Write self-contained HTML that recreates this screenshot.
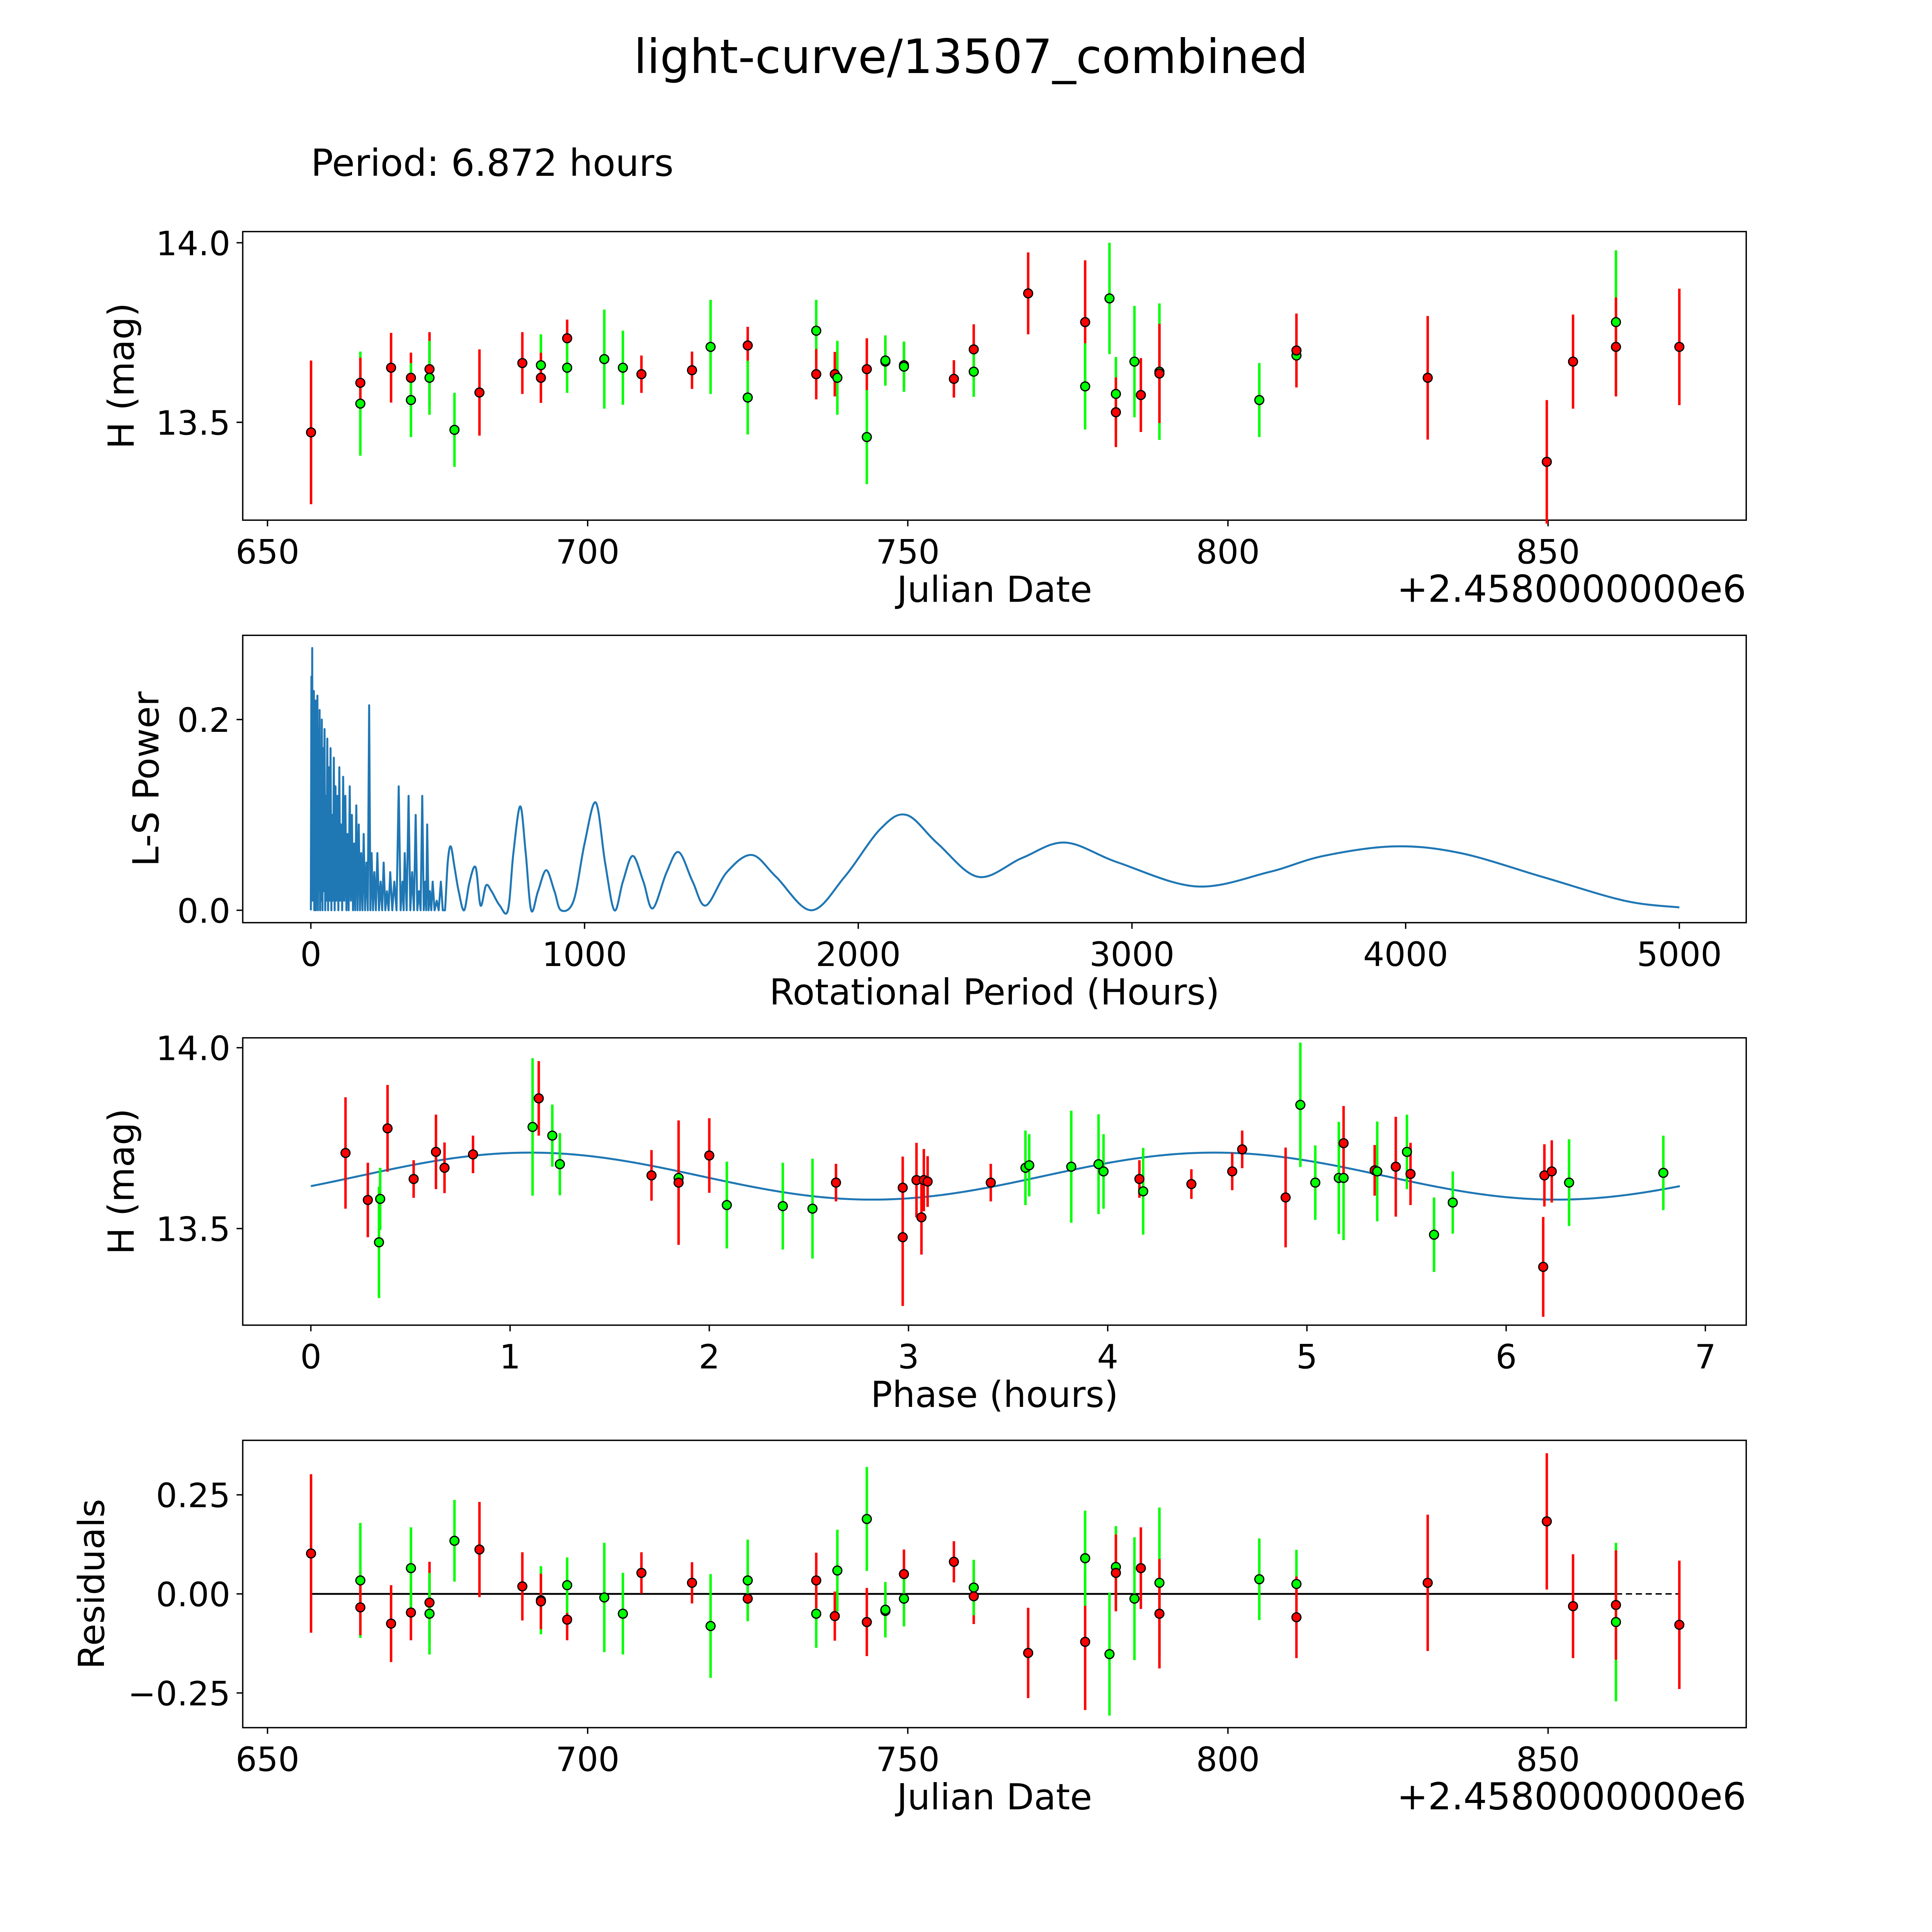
<!DOCTYPE html>
<html><head><meta charset="utf-8"><style>
html,body{margin:0;padding:0;background:#fff;width:100%;height:100%;overflow:hidden}
svg{display:block;width:100vw;height:100vh}
text{font-family:"DejaVu Sans","Liberation Sans",sans-serif;fill:#000}
</style></head><body>
<svg id="fig" xmlns="http://www.w3.org/2000/svg" viewBox="0 0 1560 1560" preserveAspectRatio="none">
<rect x="0" y="0" width="1560" height="1560" fill="#fff"/>
<text x="784" y="59" font-size="38" text-anchor="middle">light-curve/13507_combined</text>
<text x="251" y="142" font-size="30">Period: 6.872 hours</text>
<g id="plots"></g>
</svg>
<script>
// ---- data: light curve (panel 1 & 4) ----
const jdTimes = [656.8,664.5,664.5,669.3,672.4,672.4,675.3,675.3,679.2,683.1,689.8,692.7,692.7,696.8,696.8,702.6,705.5,708.4,716.3,719.2,725.0,725.0,735.7,735.7,738.6,739.0,743.6,743.6,746.5,746.5,749.4,749.4,757.2,760.3,760.3,768.8,777.7,777.7,781.5,782.5,782.5,785.4,786.4,789.3,789.3,804.9,810.7,810.7,831.2,849.8,853.9,860.6,860.6,870.5];
const magValues = [13.472,13.552,13.61,13.652,13.624,13.562,13.648,13.624,13.479,13.583,13.665,13.659,13.624,13.734,13.652,13.676,13.652,13.634,13.645,13.71,13.714,13.569,13.755,13.634,13.634,13.624,13.648,13.459,13.669,13.672,13.659,13.655,13.621,13.703,13.641,13.859,13.779,13.6,13.845,13.579,13.528,13.669,13.576,13.641,13.636,13.562,13.686,13.7,13.624,13.39,13.669,13.779,13.71,13.71];
const magErrors = [0.2,0.145,0.07,0.097,0.07,0.103,0.103,0.103,0.103,0.12,0.086,0.086,0.07,0.052,0.07,0.138,0.103,0.052,0.052,0.131,0.052,0.103,0.086,0.07,0.062,0.103,0.086,0.131,0.062,0.07,0.062,0.07,0.052,0.07,0.07,0.114,0.172,0.12,0.155,0.103,0.097,0.155,0.103,0.19,0.138,0.103,0.086,0.103,0.172,0.172,0.131,0.2,0.138,0.162];
const pointColors = ['r','g','r','r','r','g','r','g','g','r','r','g','r','r','g','g','g','r','r','g','r','g','g','r','r','g','r','g','r','g','r','g','r','r','g','r','r','g','g','g','r','g','r','g','r','g','g','r','r','r','r','g','r','r'];
const residValues = [0.102,0.034,-0.034,-0.075,-0.047,0.065,-0.022,-0.05,0.134,0.112,0.019,-0.016,-0.019,-0.065,0.022,-0.009,-0.05,0.053,0.028,-0.081,-0.012,0.034,-0.05,0.034,-0.056,0.059,-0.071,0.189,-0.043,-0.04,0.05,-0.012,0.081,-0.006,0.016,-0.149,-0.121,0.09,-0.152,0.068,0.053,-0.012,0.065,0.028,-0.05,0.037,0.025,-0.059,0.028,0.183,-0.031,-0.071,-0.028,-0.078];
// ---- data: phased (panel 3) ----
const phaseHours = [0.174,0.286,0.348,0.342,0.385,0.516,0.628,0.671,0.814,1.113,1.144,1.212,1.25,1.71,1.846,1.846,2.0,2.088,2.369,2.518,2.636,2.971,2.971,3.04,3.065,3.077,3.096,3.413,3.587,3.606,3.817,3.954,3.979,4.159,4.178,4.42,4.625,4.675,4.893,4.967,5.042,5.16,5.184,5.184,5.34,5.353,5.446,5.502,5.52,5.638,5.732,6.186,6.192,6.229,6.316,6.789];
const phaseMags = [13.709,13.579,13.582,13.462,13.777,13.637,13.712,13.668,13.705,13.781,13.86,13.757,13.678,13.647,13.64,13.627,13.702,13.565,13.562,13.555,13.627,13.476,13.613,13.634,13.531,13.634,13.63,13.627,13.668,13.675,13.671,13.678,13.658,13.637,13.603,13.623,13.658,13.719,13.586,13.842,13.627,13.64,13.64,13.736,13.661,13.658,13.671,13.712,13.651,13.483,13.572,13.394,13.647,13.658,13.627,13.654];
const phaseErrors = [0.154,0.103,0.086,0.154,0.12,0.052,0.103,0.07,0.052,0.19,0.103,0.086,0.086,0.07,0.07,0.172,0.103,0.12,0.12,0.138,0.052,0.19,0.086,0.103,0.103,0.086,0.07,0.052,0.103,0.086,0.155,0.138,0.103,0.052,0.12,0.041,0.052,0.052,0.138,0.172,0.103,0.155,0.172,0.103,0.07,0.138,0.138,0.103,0.086,0.103,0.086,0.138,0.086,0.086,0.12,0.103];
const phaseColors = ['r','r','g','g','r','r','r','r','r','g','r','g','g','r','g','r','r','g','g','g','r','r','r','r','r','r','r','r','g','g','g','g','g','r','g','r','r','r','r','g','g','g','g','r','r','g','r','g','r','g','g','r','r','r','g','g'];
const modelParams = [13.645, 0.065, 6.872, -0.44]; // mean, amplitude, period, phase offset (2 cycles per period)
// ---- data: periodogram (panel 2) ----
const lsPeriods = [0,2,3.5,5,6.5,8,9.5,11,12.5,14,15.5,17,18.5,20,22,24,26,28,30,32,34,36,38,40,42.5,45,47.5,50,52.5,55,57.5,60,63,66,69,72,75,78,81,84,87,90,93.5,97,100.5,104,107.5,111,114.5,118,122,126,130,134,138,142,146,150,154,158,162,166,170.5,175,179.5,184,188.5,193,198,203,208,213,217.5,222,227,232,237.5,243,249,255,260.5,266,272,278,284,290,297.5,305,313,321,328,335,339,343,350,357,363.5,370,376.5,383,389,395,401,407,412.5,418,421.5,425,430,435,440,445,452,460,467,475,482,490,500,511,525,540,560,580,602,620,640,660,690,720,740,765,785,805,830,860,890,914,960,1000,1041,1075,1109,1140,1176,1215,1249,1300,1344,1395,1443,1520,1611,1700,1828,1950,2080,2176,2290,2439,2600,2756,2950,3235,3500,3700,3959,4200,4500,4800,5000];
const lsPower = [0,0.245,0.02,0.275,0.01,0.2,0.03,0.23,0.0,0.18,0.02,0.22,0.0,0.15,0.01,0.225,0.0,0.19,0.02,0.21,0.0,0.14,0.01,0.2,0.0,0.17,0.02,0.19,0.0,0.12,0.01,0.18,0.0,0.15,0.01,0.17,0.0,0.1,0.01,0.16,0.0,0.13,0.01,0.12,0.0,0.15,0.01,0.09,0.0,0.14,0.01,0.12,0.0,0.08,0.0,0.13,0.01,0.1,0.0,0.07,0.0,0.11,0.0,0.09,0.0,0.06,0.0,0.08,0.0,0.05,0.0,0.215,0.0,0.06,0.0,0.04,0.0,0.06,0.0,0.03,0.0,0.05,0.0,0.02,0.0,0.04,0.0,0.03,0.0,0.13,0.0,0.03,0.0,0.06,0.0,0.12,0.0,0.04,0.0,0.1,0.0,0.02,0.0,0.12,0.0,0.03,0.0,0.09,0.0,0.02,0.0,0.03,0.0,0.01,0.0,0.03,0.0,0.0,0.05,0.067,0.045,0.02,0.0,0.03,0.045,0.005,0.026,0.02,0.005,0.0,0.06,0.109,0.06,0.0,0.02,0.042,0.02,0.0,0.01,0.07,0.113,0.05,0.0,0.03,0.057,0.03,0.002,0.04,0.061,0.03,0.005,0.04,0.058,0.035,0.0,0.035,0.085,0.1,0.07,0.035,0.055,0.071,0.05,0.025,0.04,0.057,0.067,0.06,0.035,0.01,0.003];
const lsSmoothFrom = 490; // periods above this are drawn as a smooth curve
// ---- tick labels ----
const jdTicks = [650,700,750,800,850];
const magTicks = [13.5,14.0];
const lsXTicks = [0,1000,2000,3000,4000,5000];
const lsYTicks = [0.0,0.2];
const phaseTicks = [0,1,2,3,4,5,6,7];
const residTicks = [-0.25,0.00,0.25];

const NS='http://www.w3.org/2000/svg';
const root=document.getElementById('plots');
function mk(tag,attrs,parent){const e=document.createElementNS(NS,tag);for(const k in attrs)e.setAttribute(k,attrs[k]);(parent||root).appendChild(e);return e;}
function lin(d0,d1,r0,r1){return v=>r0+(v-d0)*(r1-r0)/(d1-d0);}
const L=196,R=1410;
const COL={r:'#ff0000',g:'#00ff00'};

function axes(name,top,bot,xs,ys,xt,xfmt,yt,yfmt,xlabel,ylabel,ylx,offset){
  const g=mk('g',{});
  
  
  const box=mk('rect',{x:L,y:top,width:R-L,height:bot-top,fill:'none',stroke:'#000','stroke-width':1.1},g);
  
  
  xt.forEach(v=>{const x=xs(v);
    const tk=mk('line',{x1:x,x2:x,y1:bot,y2:bot+5,stroke:'#000','stroke-width':1.1},g);
    
    
    const t=mk('text',{x:x,y:bot+35,'font-size':27,'text-anchor':'middle'},g);t.textContent=xfmt(v);
    
    });
  yt.forEach(v=>{const y=ys(v);
    const tk=mk('line',{x1:L-5,x2:L,y1:y,y2:y,stroke:'#000','stroke-width':1.1},g);
    
    
    const t=mk('text',{x:L-10,y:y+10,'font-size':27,'text-anchor':'end'},g);t.textContent=yfmt(v);
    
    });
  const xl=mk('text',{x:803,y:bot+66,'font-size':29,'text-anchor':'middle'},g);xl.textContent=xlabel;
  
  
  const cy=(top+bot)/2;
  const yl=mk('text',{x:ylx,y:cy,'font-size':29,'text-anchor':'middle',transform:`rotate(-90 ${ylx} ${cy})`},g);yl.textContent=ylabel;
  
  
  if(offset){const o=mk('text',{x:R,y:bot+66,'font-size':30,'text-anchor':'end'},g);o.textContent=offset;
    
    }
  return g;
}
function points(g,xsArr,ysArr,errArr,cols,xs,ys,nm){
  xsArr.forEach((xv,i)=>{const x=xs(xv);
    const eb=mk('line',{x1:x,x2:x,y1:ys(ysArr[i]-errArr[i]),y2:ys(ysArr[i]+errArr[i]),stroke:COL[cols[i]],'stroke-width':2},g);
    
    });
  xsArr.forEach((xv,i)=>{
    const c=mk('circle',{cx:xs(xv),cy:ys(ysArr[i]),r:3.6,fill:COL[cols[i]],stroke:'#000','stroke-width':1},g);
    
    });
}
const fmt1=v=>v.toFixed(1), fmt0=v=>String(v), fmt2=v=>(v<0?'\u2212':'')+Math.abs(v).toFixed(2);

// Panel 1
{const xs=lin(650,850,216,1250), ys=lin(13.5,14.0,341,196);
 const g=axes('light-curve-panel',187,420,xs,ys,jdTicks,fmt0,magTicks,fmt1,'Julian Date','H (mag)',108,'+2.4580000000e6');
 points(g,jdTimes,magValues,magErrors,pointColors,xs,ys,'magnitude');}
// Panel 2
{const xs=lin(0,5000,251,1356), ys=lin(0,0.2,735,581);
 const g=axes('periodogram-panel',513,745,xs,ys,lsXTicks,fmt0,lsYTicks,fmt1,'Rotational Period (Hours)','L-S Power',128,null);
 const pts=lsPeriods.map((p,i)=>[xs(p),ys(lsPower[i]),p]);
 let d='M'+pts[0][0].toFixed(2)+' '+pts[0][1].toFixed(2);
 for(let i=1;i<pts.length;i++){
   const p1=pts[i-1],p2=pts[i];
   if(p1[2]<lsSmoothFrom){d+='L'+p2[0].toFixed(2)+' '+p2[1].toFixed(2);continue;}
   const p0=pts[i-2]||p1,p3=pts[i+1]||p2;
   const c1x=p1[0]+(p2[0]-p0[0])/6,c1y=p1[1]+(p2[1]-p0[1])/6;
   const c2x=p2[0]-(p3[0]-p1[0])/6,c2y=p2[1]-(p3[1]-p1[1])/6;
   d+=`C${c1x.toFixed(2)} ${c1y.toFixed(2)} ${c2x.toFixed(2)} ${c2y.toFixed(2)} ${p2[0].toFixed(2)} ${p2[1].toFixed(2)}`;
 }
 const p=mk('path',{d:d,fill:'none',stroke:'#1f77b4','stroke-width':1.6,'stroke-linejoin':'round'},g);
 
 }
// Panel 3
{const xs=lin(0,7,251,1377), ys=lin(13.5,14.0,992,846);
 const g=axes('phased-panel',838,1070,xs,ys,phaseTicks,fmt0,magTicks,fmt1,'Phase (hours)','H (mag)',108,null);
 const [m,a,P,ph]=modelParams; let d='';
 for(let i=0;i<=300;i++){const t=P*i/300;const v=m+a*Math.sin(4*Math.PI*t/P+ph);d+=(i?'L':'M')+xs(t).toFixed(2)+' '+ys(v).toFixed(2);}
 const c=mk('path',{d:d,fill:'none',stroke:'#1f77b4','stroke-width':1.6},g);
 
 
 points(g,phaseHours,phaseMags,phaseErrors,phaseColors,xs,ys,'phased');}
// Panel 4
{const xs=lin(650,850,216,1250), ys=lin(0,0.25,1287,1207);
 const g=axes('residuals-panel',1163,1395,xs,ys,jdTicks,fmt0,residTicks,fmt2,'Julian Date','Residuals',84,'+2.4580000000e6');
 const n=jdTimes.length;
 const z1=mk('line',{x1:xs(jdTimes[0]),x2:xs(jdTimes[n-2]),y1:ys(0),y2:ys(0),stroke:'#000','stroke-width':1.5},g);
 
 
 const z2=mk('line',{x1:xs(jdTimes[n-2]),x2:xs(jdTimes[n-1]),y1:ys(0),y2:ys(0),stroke:'#000','stroke-width':1.2,'stroke-dasharray':'5 3'},g);
 
 
 points(g,jdTimes,residValues,magErrors,pointColors,xs,ys,'residual');}
</script>
</body></html>
